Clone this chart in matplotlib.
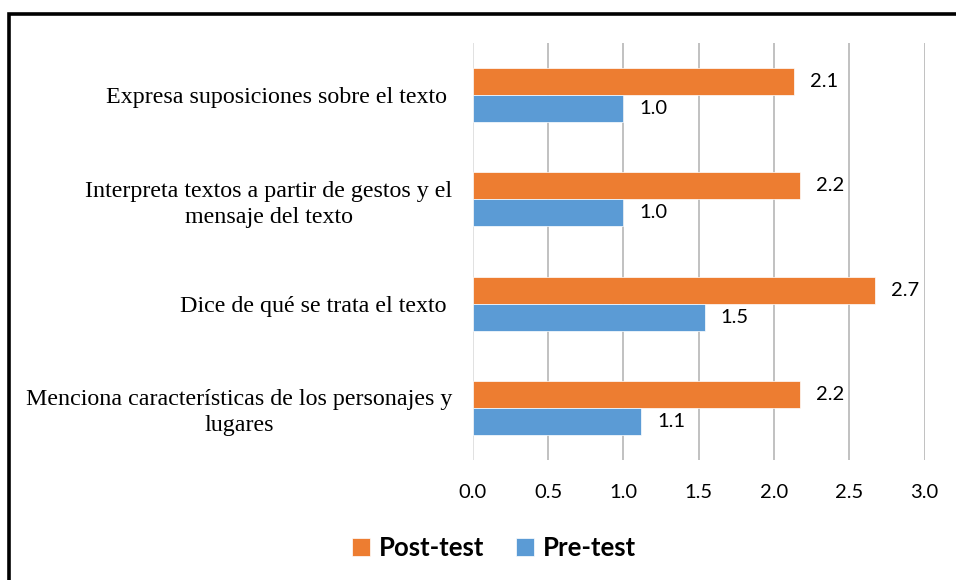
import numpy as np
import matplotlib
matplotlib.use('Agg')
import matplotlib.pyplot as plt
from matplotlib.patches import Rectangle

categorias = ['Expresa suposiciones sobre el texto ',
              'Interpreta textos a partir de gestos y el\nmensaje del texto',
              'Dice de qué se trata el texto ',
              'Menciona características de los personajes y\nlugares']
post_test = [2.13, 2.17, 2.67, 2.17]
pre_test = [1.0, 1.0, 1.54, 1.12]
etiquetas_post = ['2.1', '2.2', '2.7', '2.2']
etiquetas_pre = ['1.0', '1.0', '1.5', '1.1']
ticks_x = [0.0, 0.5, 1.0, 1.5, 2.0, 2.5, 3.0]

naranja = '#ED7D31'
azul = '#5B9BD5'
h = 0.259

fig = plt.figure(figsize=(9.56, 5.8), dpi=100)
ax = fig.add_axes([472.7/956, 1 - 460/580, (924.7 - 472.7)/956, (460 - 43)/580])

y = np.arange(len(categorias))
b_post = ax.barh(y - h/2, post_test, height=h, color=naranja, edgecolor='white', linewidth=0.5, label='Post-test', zorder=3)
b_pre = ax.barh(y + h/2, pre_test, height=h, color=azul, edgecolor='white', linewidth=0.5, label='Pre-test', zorder=3)

for i in range(len(categorias)):
    ax.annotate(etiquetas_post[i], (post_test[i], y[i] - h/2), xytext=(11.5, 0), textcoords='offset points',
                ha='left', va='center', fontsize=14.5, family='Lato')
    ax.annotate(etiquetas_pre[i], (pre_test[i], y[i] + h/2), xytext=(11.5, 0), textcoords='offset points',
                ha='left', va='center', fontsize=14.5, family='Lato')

ax.set_xlim(0, 3.0)
ax.set_ylim(3.5, -0.5)
ax.set_xticks(ticks_x)
ax.set_xticklabels(['%.1f' % t for t in ticks_x], fontsize=14.5, family='Lato')
ax.set_yticks(y)
ax.set_yticklabels(categorias, fontsize=17.3, family='Liberation Serif', linespacing=1.3)
for lbl in ax.get_yticklabels():
    lbl.set_multialignment('center')
ax.tick_params(axis='x', length=0, pad=17)
ax.tick_params(axis='y', length=0, pad=14.5)
for s in ax.spines.values():
    s.set_visible(False)
ax.grid(axis='x', color='#b0b0b0', linewidth=1.1, zorder=0)
ax.get_xgridlines()[0].set_color('#d9d9d9')
ax.set_axisbelow(True)

fig.legend(handles=[b_post, b_pre], loc='center', bbox_to_anchor=(494/956, 1 - 548/580), ncol=2, frameon=False,
           prop={'family': 'Lato', 'weight': 'bold', 'size': 18.5}, handlelength=0.7, handleheight=0.7,
           handletextpad=0.35, columnspacing=1.2)

fig.patches.append(Rectangle((9/956, -0.1), 1.2, 1.1 - 14/580, transform=fig.transFigure,
                             fill=False, edgecolor='black', linewidth=2.6))

fig.savefig('out.png', dpi=100)
